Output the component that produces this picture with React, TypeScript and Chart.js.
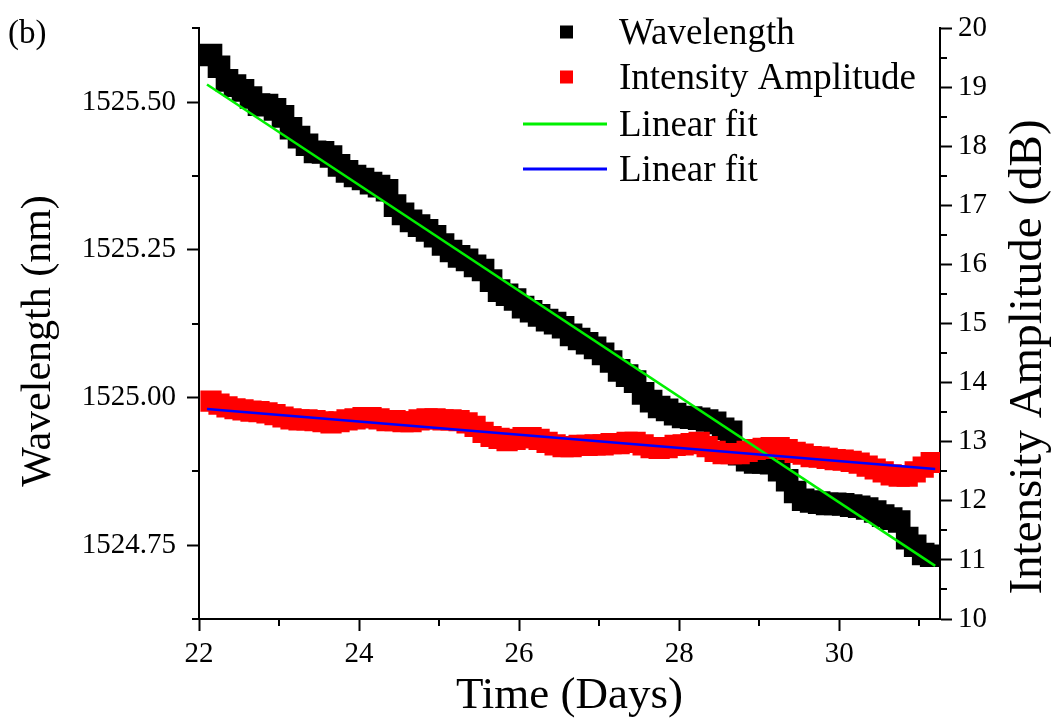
import React, { useEffect, useRef } from "react";
import { Chart, registerables } from "chart.js";

Chart.register(...registerables);

const FONT = "'Liberation Serif', 'Times New Roman', serif";

// Time samples (days)
const days = [
  22.15, 22.25, 22.35, 22.45, 22.55, 22.65, 22.75, 22.85, 22.95, 23.05,
  23.15, 23.25, 23.35, 23.45, 23.55, 23.65, 23.75, 23.85, 23.95, 24.05,
  24.15, 24.25, 24.35, 24.45, 24.55, 24.65, 24.75, 24.85, 24.95, 25.05,
  25.15, 25.25, 25.35, 25.45, 25.55, 25.65, 25.75, 25.85, 25.95, 26.05,
  26.15, 26.25, 26.35, 26.45, 26.55, 26.65, 26.75, 26.85, 26.95, 27.05,
  27.15, 27.25, 27.35, 27.45, 27.55, 27.65, 27.75, 27.85, 27.95, 28.05,
  28.15, 28.25, 28.35, 28.45, 28.55, 28.65, 28.75, 28.85, 28.95, 29.05,
  29.15, 29.25, 29.35, 29.45, 29.55, 29.65, 29.75, 29.85, 29.95, 30.05,
  30.15, 30.25, 30.35, 30.45, 30.55, 30.65, 30.75, 30.85, 30.95, 31.05,
  31.15,
];

// Wavelength (nm), left axis
const wavelengthNm = [
  1525.58, 1525.56, 1525.537, 1525.528, 1525.52, 1525.508, 1525.496, 1525.495, 1525.488, 1525.476,
  1525.456, 1525.441, 1525.428, 1525.416, 1525.415, 1525.408, 1525.393, 1525.383, 1525.375, 1525.37,
  1525.363, 1525.358, 1525.351, 1525.325, 1525.311, 1525.299, 1525.291, 1525.283, 1525.273, 1525.259,
  1525.248, 1525.239, 1525.233, 1525.223, 1525.216, 1525.198, 1525.181, 1525.174, 1525.166, 1525.153,
  1525.146, 1525.139, 1525.131, 1525.126, 1525.119, 1525.106, 1525.099, 1525.092, 1525.084, 1525.074,
  1525.061, 1525.046, 1525.037, 1525.027, 1525.007, 1524.994, 1524.984, 1524.979, 1524.972, 1524.967,
  1524.966, 1524.964, 1524.961, 1524.957, 1524.947, 1524.942, 1524.904, 1524.894, 1524.89, 1524.89,
  1524.889, 1524.877, 1524.86, 1524.84, 1524.827, 1524.824, 1524.822, 1524.82, 1524.82, 1524.819,
  1524.817, 1524.815, 1524.812, 1524.807, 1524.8, 1524.795, 1524.79, 1524.762, 1524.749, 1524.735,
  1524.732,
];

// Intensity amplitude (dB), right axis
const intensityDb = [
  13.69, 13.64, 13.59, 13.56, 13.54, 13.52, 13.51, 13.49, 13.46, 13.42,
  13.39, 13.37, 13.37, 13.36, 13.34, 13.32, 13.34, 13.37, 13.39, 13.41,
  13.41, 13.39, 13.36, 13.36, 13.34, 13.34, 13.37, 13.39, 13.39, 13.37,
  13.37, 13.36, 13.32, 13.26, 13.16, 13.09, 13.06, 13.02, 13.04, 13.07,
  13.07, 13.04, 12.99, 12.95, 12.92, 12.92, 12.94, 12.94, 12.95, 12.95,
  12.97, 12.97, 12.99, 12.99, 12.95, 12.9, 12.89, 12.9, 12.94, 12.95,
  12.97, 12.99, 12.92, 12.84, 12.8, 12.8, 12.8, 12.84, 12.87, 12.89,
  12.9, 12.9, 12.87, 12.82, 12.79, 12.75, 12.74, 12.72, 12.7, 12.69,
  12.67, 12.64, 12.59, 12.54, 12.49, 12.44, 12.42, 12.42, 12.49, 12.57,
  12.65,
];

// Linear fits (end points)
const wavelengthFitDays = [22.1, 31.2];
const wavelengthFitNm = [1525.53, 1524.715];
const intensityFitDays = [22.1, 31.2];
const intensityFitDb = [13.556, 12.54];

// Ticks
const xTicks = [22, 24, 26, 28, 30];
const xMinorTicks = [23, 25, 27, 29, 31];
const leftTicks = [1524.75, 1525.0, 1525.25, 1525.5];
const leftMinorTicks = [1524.625, 1524.875, 1525.125, 1525.375, 1525.625];
const rightTicks = [10, 11, 12, 13, 14, 15, 16, 17, 18, 19, 20];
const rightMinorTicks = [10.5, 11.5, 12.5, 13.5, 14.5, 15.5, 16.5, 17.5, 18.5, 19.5];

const seriesLabels = ["Wavelength", "Intensity Amplitude", "Linear fit", "Linear fit"];
const seriesColors = ["#000000", "#ff0000", "#00f000", "#0000ff"];
const xTitle = "Time (Days)";
const leftTitle = "Wavelength (nm)";
const rightTitle = "Intensity Amplitude (dB)";
const panelLabel = "(b)";

const overlayPlugin = {
  id: "overlay",
  afterDraw(chart: any) {
    const { ctx, chartArea, scales } = chart;
    const x = scales.x;
    const yl = scales.y;
    const yr = scales.y1;
    ctx.save();
    // minor ticks
    ctx.strokeStyle = "#000";
    ctx.lineWidth = 2;
    ctx.beginPath();
    xMinorTicks.forEach((v) => {
      const p = Math.round(x.getPixelForValue(v));
      ctx.moveTo(p, chartArea.bottom);
      ctx.lineTo(p, chartArea.bottom + 7);
    });
    leftMinorTicks.forEach((v) => {
      const p = Math.round(yl.getPixelForValue(v));
      ctx.moveTo(chartArea.left, p);
      ctx.lineTo(chartArea.left - 7, p);
    });
    rightMinorTicks.forEach((v) => {
      const p = Math.round(yr.getPixelForValue(v));
      ctx.moveTo(chartArea.right, p);
      ctx.lineTo(chartArea.right + 7, p);
    });
    ctx.stroke();

    // axis titles (vertical)
    ctx.fillStyle = "#000";
    ctx.textAlign = "center";
    ctx.textBaseline = "alphabetic";
    ctx.font = `42px ${FONT}`;
    ctx.save();
    ctx.translate(50, 341);
    ctx.rotate(-Math.PI / 2);
    ctx.fillText(leftTitle, 0, 0);
    ctx.restore();
    ctx.font = `47px ${FONT}`;
    ctx.save();
    ctx.translate(1041, 357);
    ctx.rotate(-Math.PI / 2);
    ctx.fillText(rightTitle, 0, 0);
    ctx.restore();

    // panel label
    ctx.textAlign = "left";
    ctx.font = `33px ${FONT}`;
    ctx.fillText(panelLabel, 8, 43);

    // legend
    const rows = [44, 89, 136, 181];
    ctx.font = `37px ${FONT}`;
    chart.data.datasets.forEach((ds: any, i: number) => {
      const base = rows[i];
      const cy = base - 12;
      if (i < 2) {
        ctx.fillStyle = ds.backgroundColor;
        ctx.fillRect(560, cy - 6.5, 13, 13);
      } else {
        ctx.strokeStyle = ds.borderColor;
        ctx.lineWidth = 3;
        ctx.beginPath();
        ctx.moveTo(523, cy);
        ctx.lineTo(607, cy);
        ctx.stroke();
      }
      ctx.fillStyle = "#000";
      ctx.fillText(ds.label, 619, base);
    });
    ctx.restore();
  },
};

export default function App() {
  const canvasRef = useRef<HTMLCanvasElement | null>(null);

  useEffect(() => {
    const canvas = canvasRef.current;
    if (!canvas) return;
    const tickFont = { family: FONT, size: 29 };
    const chart = new Chart(canvas, {
      type: "scatter",
      data: {
        datasets: [
          {
            label: seriesLabels[0],
            data: days.map((d, i) => ({ x: d, y: wavelengthNm[i] })),
            yAxisID: "y",
            backgroundColor: seriesColors[0],
            borderWidth: 0,
            pointStyle: "rect",
            pointRadius: 16,
            order: 4,
          },
          {
            label: seriesLabels[1],
            data: days.map((d, i) => ({ x: d, y: intensityDb[i] })),
            yAxisID: "y1",
            backgroundColor: seriesColors[1],
            borderWidth: 0,
            pointStyle: "rect",
            pointRadius: 15,
            order: 3,
          },
          {
            label: seriesLabels[2],
            data: wavelengthFitDays.map((d, i) => ({ x: d, y: wavelengthFitNm[i] })),
            yAxisID: "y",
            showLine: true,
            borderColor: seriesColors[2],
            backgroundColor: seriesColors[2],
            borderWidth: 2.5,
            pointRadius: 0,
            order: 2,
          },
          {
            label: seriesLabels[3],
            data: intensityFitDays.map((d, i) => ({ x: d, y: intensityFitDb[i] })),
            yAxisID: "y1",
            showLine: true,
            borderColor: seriesColors[3],
            backgroundColor: seriesColors[3],
            borderWidth: 2.5,
            pointRadius: 0,
            order: 1,
          },
        ],
      },
      options: {
        responsive: false,
        animation: false,
        events: [],
        layout: { padding: { top: 20, left: 0, right: 0, bottom: 0 } },
        plugins: {
          legend: { display: false },
          tooltip: { enabled: false },
        },
        scales: {
          x: {
            type: "linear",
            position: "bottom",
            min: 22,
            max: 31.26,
            afterBuildTicks: (s: any) => {
              s.ticks = xTicks.map((v) => ({ value: v }));
            },
            afterFit: (s: any) => {
              s.height = 104;
            },
            ticks: { font: tickFont, color: "#000", padding: 6, maxRotation: 0 },
            grid: { drawOnChartArea: false, tickLength: 12, tickWidth: 2, tickColor: "#000" },
            border: { display: true, color: "#000", width: 2 },
            title: {
              display: true,
              text: xTitle,
              color: "#000",
              font: { family: FONT, size: 45 },
              padding: { top: 0, bottom: 0 },
            },
          },
          y: {
            type: "linear",
            position: "left",
            min: 1524.625,
            max: 1525.625,
            afterBuildTicks: (s: any) => {
              s.ticks = leftTicks.map((v) => ({ value: v }));
            },
            afterFit: (s: any) => {
              s.width = 199;
            },
            ticks: {
              font: tickFont,
              color: "#000",
              padding: 11,
              callback: (v: any) => Number(v).toFixed(2),
            },
            grid: { drawOnChartArea: false, tickLength: 12, tickWidth: 2, tickColor: "#000" },
            border: { display: true, color: "#000", width: 2 },
          },
          y1: {
            type: "linear",
            position: "right",
            min: 10,
            max: 20,
            afterBuildTicks: (s: any) => {
              s.ticks = rightTicks.map((v) => ({ value: v }));
            },
            afterFit: (s: any) => {
              s.width = 116;
            },
            ticks: { font: tickFont, color: "#000", padding: 6 },
            grid: { drawOnChartArea: false, tickLength: 12, tickWidth: 2, tickColor: "#000" },
            border: { display: true, color: "#000", width: 2 },
          },
        },
      },
      plugins: [overlayPlugin],
    } as any);
    return () => chart.destroy();
  }, []);

  return (
    <canvas
      ref={canvasRef}
      width={1056}
      height={723}
      style={{ position: "absolute", left: 0, top: 0, display: "block" }}
    />
  );
}
